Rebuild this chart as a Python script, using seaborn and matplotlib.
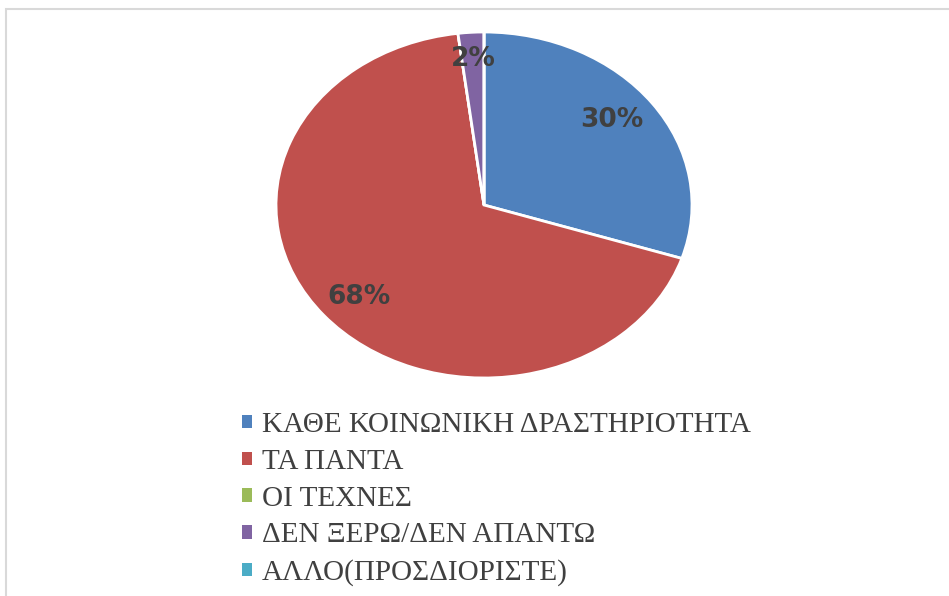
import seaborn as sns
import matplotlib.pyplot as plt
from matplotlib.patches import Rectangle, Patch

# data
categories = ["ΚΑΘΕ ΚΟΙΝΩΝΙΚΗ ΔΡΑΣΤΗΡΙΟΤΗΤΑ", "ΤΑ ΠΑΝΤΑ", "ΟΙ ΤΕΧΝΕΣ",
              "ΔΕΝ ΞΕΡΩ/ΔΕΝ ΑΠΑΝΤΩ", "ΑΛΛΟ(ΠΡΟΣΔΙΟΡΙΣΤΕ)"]
shares = [30, 68, 0, 2, 0]
colors = ["#4F81BD", "#C0504D", "#9BBB59", "#8064A2", "#4BACC6"]

sns.set_theme(style="white")
palette = sns.color_palette(colors)

W, H = 949, 596
fig = plt.figure(figsize=(W / 100, H / 100), dpi=100)
fig.patch.set_facecolor("white")

# pie is an ellipse in the reference, so the axes box sets its shape
ax = fig.add_axes([276 / W, (H - 378) / H, 416 / W, 346 / H])


def fmt(p):
    return f"{p:.0f}%" if p > 0.5 else ""


wedges, texts, autotexts = ax.pie(
    shares, colors=palette, startangle=90, counterclock=False,
    autopct=fmt, pctdistance=0.8,
    wedgeprops=dict(edgecolor="white", linewidth=2),
    textprops=dict(color="#404040", fontsize=19, fontweight="bold",
                   family=["DejaVu Sans"]),
)
ax.set_aspect("auto")
ax.set_xlim(-1, 1)
ax.set_ylim(-1, 1)
ax.axis("off")

# label positions nudged to where they sit in the reference
autotexts[0].set_position((0.615, 0.49))
autotexts[1].set_position((-0.60, -0.53))
autotexts[3].set_position((-0.05, 0.845))

handles = [Patch(facecolor=c, edgecolor="none") for c in palette]
leg = fig.legend(
    handles, categories, loc="upper left",
    bbox_to_anchor=(242 / W, 1 - 412 / H),
    frameon=False, labelspacing=0.37,
    handlelength=0.33, handleheight=0.33, handletextpad=0.34,
    borderaxespad=0, borderpad=0,
    prop=dict(family=["Liberation Serif", "DejaVu Serif"], size=21),
)
for t in leg.get_texts():
    t.set_color("#404040")

# light frame around the chart area
fig.patches.append(Rectangle((6 / W, -0.1), 1.2, (H - 9) / H + 0.1,
                             transform=fig.transFigure, fill=False,
                             edgecolor="#d9d9d9", linewidth=1.5))

fig.savefig("out.png", dpi=100)
